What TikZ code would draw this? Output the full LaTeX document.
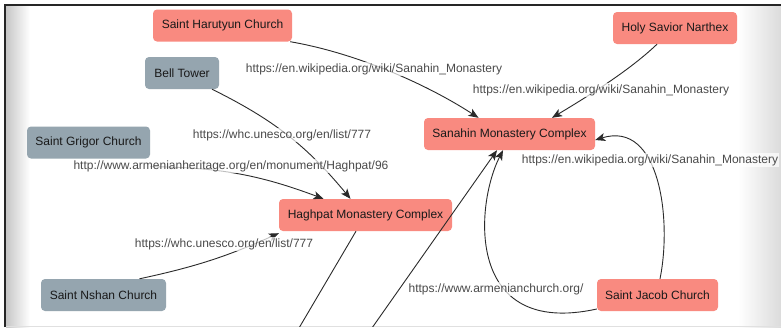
\documentclass[tikz,border=0pt]{standalone}
\usepackage{fontspec}
\setmainfont{Liberation Sans}
\usetikzlibrary{arrows.meta}
\definecolor{rednode}{HTML}{F98A80}
\definecolor{graynode}{HTML}{95A5AF}
\definecolor{edgec}{HTML}{2A2A2A}
\definecolor{labc}{HTML}{4A4A4A}
\begin{document}
\begin{tikzpicture}[x=1pt,y=-1pt,
  box/.style={rounded corners=4pt, inner sep=0pt, minimum height=32pt,
    font=\fontsize{12}{14}\selectfont, text=black!90},
  rbox/.style={box, fill=rednode},
  gbox/.style={box, fill=graynode},
  edge/.style={draw=edgec, line width=0.9pt, -{Stealth[length=10pt,width=8pt,inset=2.5pt]}},
  lab/.style={font=\fontsize{12}{14}\selectfont, text=labc, fill=white, fill opacity=0.7,
    text opacity=1, inner sep=1pt}]
\useasboundingbox (0,0) rectangle (781,327);
\fill[white] (0,0) rectangle (781,327);
% frame and shadows
\shade[left color=black!22, right color=white] (6,6) rectangle (30,327);
\shade[left color=white, right color=black!14] (738,6) rectangle (781,327);
\draw[black!12] (6,326.5) -- (781,326.5);
\draw[line width=2pt, black!85] (5,327) -- (5,5) -- (781,5);

% nodes
\node[rbox, minimum width=139pt] (harutyun) at (222.5,25.5) {Saint Harutyun Church};
\node[gbox, minimum width=74pt] (bell) at (182,73) {Bell Tower};
\node[gbox, minimum width=123pt] (grigor) at (88.5,142.5) {Saint Grigor Church};
\node[rbox, minimum width=124pt] (savior) at (675,28) {Holy Savior Narthex};
\node[rbox, minimum width=171pt] (sanahin) at (509.5,134) {Sanahin Monastery Complex};
\node[rbox, minimum width=173pt] (haghpat) at (365.5,215) {Haghpat Monastery Complex};
\node[gbox, minimum width=125pt] (nshan) at (103.5,295) {Saint Nshan Church};
\node[rbox, minimum width=121pt] (jacob) at (657.5,295) {Saint Jacob Church};

\coordinate (offA) at (360,345);
\coordinate (offB) at (289,345);

% edges
\begin{scope}
\clip (0,6) rectangle (781,326);
\draw[edge] ([xshift=-2pt]harutyun.south east) .. controls (350,52) and (420,80) .. ([xshift=-31pt]sanahin.north);
\draw[edge] ([xshift=-18pt]savior.south) .. controls (630,70) and (590,95) .. ([xshift=42.5pt]sanahin.north);
\draw[edge] ([xshift=30pt]bell.south) to[bend left=12] ([xshift=-15pt]haghpat.north);
\draw[edge] ([yshift=-8pt]grigor.south east) to[bend left=10] ([xshift=-42pt]haghpat.north);
\draw[edge] ([xshift=36pt]nshan.north) to[bend right=6] ([yshift=-2pt]haghpat.south west);
\draw[edge] ([yshift=-14pt]jacob.west) .. controls (465,338) and (475,205) .. ([xshift=-6.5pt]sanahin.south);
\draw[edge] ([xshift=2.5pt]jacob.north) .. controls (672,220) and (660,120) .. ([yshift=-6pt]sanahin.east);
\draw[edge] (offA) -- ([xshift=-12.5pt]sanahin.south);
\draw[edge] ([xshift=-9.5pt]haghpat.south) -- (offB);
\end{scope}

% labels
\node[lab] (l1) at (374,69) {https://en.wikipedia.org/wiki/Sanahin\_Monastery};
\node[lab] (l2) at (601,90) {https://en.wikipedia.org/wiki/Sanahin\_Monastery};
\node[lab] (l3) at (650,160) {https://en.wikipedia.org/wiki/Sanahin\_Monastery};
\node[lab] (l4) at (282,135) {https://whc.unesco.org/en/list/777};
\node[lab] (l5) at (231,166) {http://www.armenianheritage.org/en/monument/Haghpat/96};
\node[lab] (l6) at (224,244) {https://whc.unesco.org/en/list/777};
\node[lab] (l7) at (496,289) {https://www.armenianchurch.org/};
\end{tikzpicture}
\end{document}
